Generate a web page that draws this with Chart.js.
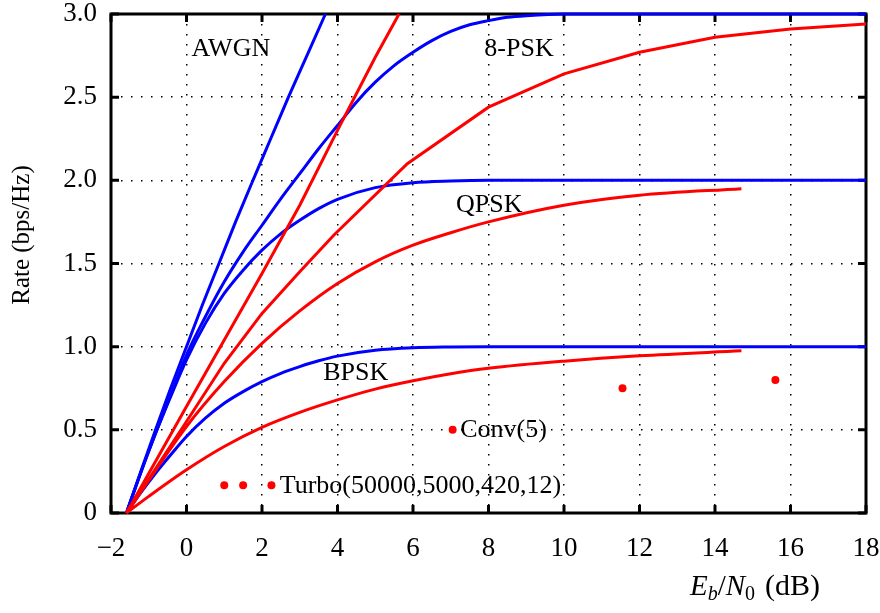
<!DOCTYPE html>
<html>
<head>
<meta charset="utf-8">
<script src="https://cdn.jsdelivr.net/npm/chart.js@4.4.1/dist/chart.umd.min.js"></script>
<style>
  html, body { margin: 0; padding: 0; background: #fff; }
  #wrap { width: 880px; height: 613px; }
</style>
</head>
<body>
<div id="wrap"><canvas id="chart" width="880" height="613"></canvas></div>
<script>
// values: x = Eb/N0 (dB), y = rate (bps/Hz)
const awgnEb   = [-1.59, -1.21, -0.82, -0.42, 0, 0.42, 0.86, 1.3, 1.76, 2.23, 2.7, 3.19, 3.68];
const awgnRate = [0, 0.25, 0.5, 0.75, 1.0, 1.25, 1.5, 1.75, 2.0, 2.25, 2.5, 2.75, 3.0];

const psk8Eb   = [-1.59, -1.2, -0.8, -0.4, 0, 0.5, 1, 1.5, 2, 2.5, 3, 3.5, 4, 4.5, 5, 5.5, 6, 6.5, 7, 7.5, 8, 8.5, 9, 10, 18];
const psk8Rate = [0, 0.25, 0.49, 0.72, 0.95, 1.18, 1.39, 1.57, 1.73, 1.89, 2.04, 2.19, 2.33, 2.47, 2.59, 2.69, 2.77, 2.84, 2.895, 2.935, 2.96, 2.98, 2.99, 3.0, 3.0];

const modEb    = [-1.59, -1.2, -0.8, -0.4, 0, 0.5, 1, 1.5, 2, 2.5, 3, 3.5, 4, 5, 6, 7, 8, 18];
const qpskRate = [0, 0.25, 0.49, 0.71, 0.92, 1.14, 1.32, 1.46, 1.58, 1.68, 1.76, 1.83, 1.886, 1.956, 1.986, 1.996, 2.0, 2.0];
const bpskRate = [0, 0.125, 0.245, 0.355, 0.46, 0.57, 0.66, 0.73, 0.79, 0.84, 0.88, 0.915, 0.943, 0.978, 0.993, 0.998, 1.0, 1.0];

const redAEb   = [-1.59, 0, 1, 2, 3, 4, 5, 5.63];
const redARate = [0, 0.64, 1.04, 1.44, 1.85, 2.3, 2.74, 3.0];

const red8Eb   = [-1.59, 0, 1, 2, 3, 3.9, 5.85, 8, 10, 12, 14, 16, 18];
const red8Rate = [0, 0.55, 0.9, 1.2, 1.45, 1.67, 2.1, 2.44, 2.64, 2.77, 2.86, 2.91, 2.94];

const redQEb   = [-1.59, 0, 1, 2, 3, 4, 5, 6, 7, 8, 10, 12, 14.7];
const redQRate = [0, 0.52, 0.79, 1.02, 1.215, 1.38, 1.51, 1.61, 1.685, 1.75, 1.85, 1.91, 1.95];

const redBEb   = [-1.59, -1, 0, 1, 2, 3, 4, 5, 6, 7, 8, 10, 12, 14.7];
const redBRate = [0, 0.1, 0.26, 0.4, 0.515, 0.605, 0.68, 0.745, 0.795, 0.837, 0.87, 0.913, 0.945, 0.975];

const codeEb   = [1.0, 1.5, 2.25, 7.05, 11.55, 15.6];
const codeRate = [0.167, 0.167, 0.167, 0.5, 0.75, 0.8];

// curve labels, placed in data coordinates (left edge, vertical middle)
const labelText = ['AWGN', '8-PSK', 'QPSK', 'BPSK', 'Conv(5)', 'Turbo(50000,5000,420,12)'];
const labelEb   = [0.13, 7.89, 7.14, 3.62, 7.25, 2.47];
const labelRate = [2.79, 2.79, 1.85, 0.84, 0.5, 0.16];

const FONT = 'Liberation Serif, Times New Roman, serif';
const BLUE = '#0000ff';
const RED = '#ff0000';

const pts = (xs, ys) => xs.map((x, i) => ({ x: x, y: ys[i] }));

const curve = (xs, ys, color, smooth) => ({
    data: pts(xs, ys),
    borderColor: color,
    borderWidth: 3,
    pointRadius: 0,
    fill: false,
    clip: 4,
    tension: 0,
    cubicInterpolationMode: smooth ? 'monotone' : 'default'
});

// frame, inward ticks, curve labels and axis titles
const decorations = {
    id: 'decorations',
    beforeDatasetsDraw(chart) {
        const { ctx, chartArea: a, scales } = chart;
        ctx.save();
        ctx.strokeStyle = '#000';
        ctx.lineWidth = 3;
        ctx.strokeRect(a.left, a.top, a.right - a.left, a.bottom - a.top);
        const len = 8;
        ctx.beginPath();
        scales.x.ticks.forEach(t => {
            const px = scales.x.getPixelForValue(t.value);
            ctx.moveTo(px, a.bottom); ctx.lineTo(px, a.bottom - len);
            ctx.moveTo(px, a.top); ctx.lineTo(px, a.top + len);
        });
        scales.y.ticks.forEach(t => {
            const py = scales.y.getPixelForValue(t.value);
            ctx.moveTo(a.left, py); ctx.lineTo(a.left + len, py);
            ctx.moveTo(a.right, py); ctx.lineTo(a.right - len, py);
        });
        ctx.stroke();
        ctx.restore();
    },
    afterDatasetsDraw(chart) {
        const { ctx, scales } = chart;
        ctx.save();
        ctx.fillStyle = '#000';
        ctx.font = '26px ' + FONT;
        ctx.textAlign = 'left';
        ctx.textBaseline = 'middle';
        labelText.forEach((txt, i) => {
            ctx.fillText(txt, scales.x.getPixelForValue(labelEb[i]), scales.y.getPixelForValue(labelRate[i]));
        });

        // y title
        ctx.save();
        ctx.translate(22, 235);
        ctx.rotate(-Math.PI / 2);
        ctx.textAlign = 'center';
        ctx.font = '25px ' + FONT;
        ctx.fillText('Rate (bps/Hz)', 0, 0);
        ctx.restore();

        // x title: E_b/N_0 (dB)
        let x = 690;
        const y = 595;
        const part = (txt, font, dy) => {
            ctx.font = font;
            ctx.fillText(txt, x, y + dy);
            x += ctx.measureText(txt).width;
        };
        ctx.textBaseline = 'alphabetic';
        part('E', 'italic 29px ' + FONT, 0);
        part('b', 'italic 20px ' + FONT, 5);
        part('/', '29px ' + FONT, 0);
        part('N', 'italic 29px ' + FONT, 0);
        part('0', '20px ' + FONT, 5);
        x += 10;
        part('(dB)', '30px ' + FONT, 0);
        ctx.restore();
    }
};

const tickFont = { family: FONT, size: 27 };

new Chart(document.getElementById('chart'), {
    type: 'line',
    data: {
        datasets: [
            {
                type: 'scatter',
                data: pts(codeEb, codeRate),
                pointRadius: 4,
                pointBackgroundColor: RED,
                pointBorderWidth: 0,
                showLine: false,
                clip: false
            },
            curve(redAEb, redARate, RED, false),
            curve(red8Eb, red8Rate, RED, false),
            curve(redQEb, redQRate, RED, true),
            curve(redBEb, redBRate, RED, true),
            curve(awgnEb, awgnRate, BLUE, true),
            curve(psk8Eb, psk8Rate, BLUE, true),
            curve(modEb, qpskRate, BLUE, true),
            curve(modEb, bpskRate, BLUE, true)
        ]
    },
    options: {
        responsive: false,
        animation: false,
        devicePixelRatio: 1,
        layout: { padding: { left: 0, right: 14, top: 14, bottom: 0 } },
        plugins: { legend: { display: false }, tooltip: { enabled: false } },
        scales: {
            x: {
                type: 'linear',
                min: -2,
                max: 18,
                ticks: {
                    stepSize: 2,
                    color: '#000',
                    font: tickFont,
                    padding: 20,
                    maxRotation: 0,
                    callback: v => String(v).replace('-', '\u2212')
                },
                grid: { color: '#000', lineWidth: 1.5, drawTicks: false },
                border: { display: false, dash: [1.5, 8.5] },
                afterFit: s => { s.height = 100; s.paddingLeft = 0; s.paddingRight = 0; }
            },
            y: {
                min: 0,
                max: 3,
                ticks: {
                    stepSize: 0.5,
                    color: '#000',
                    font: tickFont,
                    padding: 14,
                    callback: v => v === 0 ? '0' : v.toFixed(1)
                },
                grid: { color: '#000', lineWidth: 1.5, drawTicks: false },
                border: { display: false, dash: [1.5, 8.5] },
                afterFit: s => { s.width = 111; s.paddingTop = 0; s.paddingBottom = 0; }
            }
        }
    },
    plugins: [decorations]
});
</script>
</body>
</html>
